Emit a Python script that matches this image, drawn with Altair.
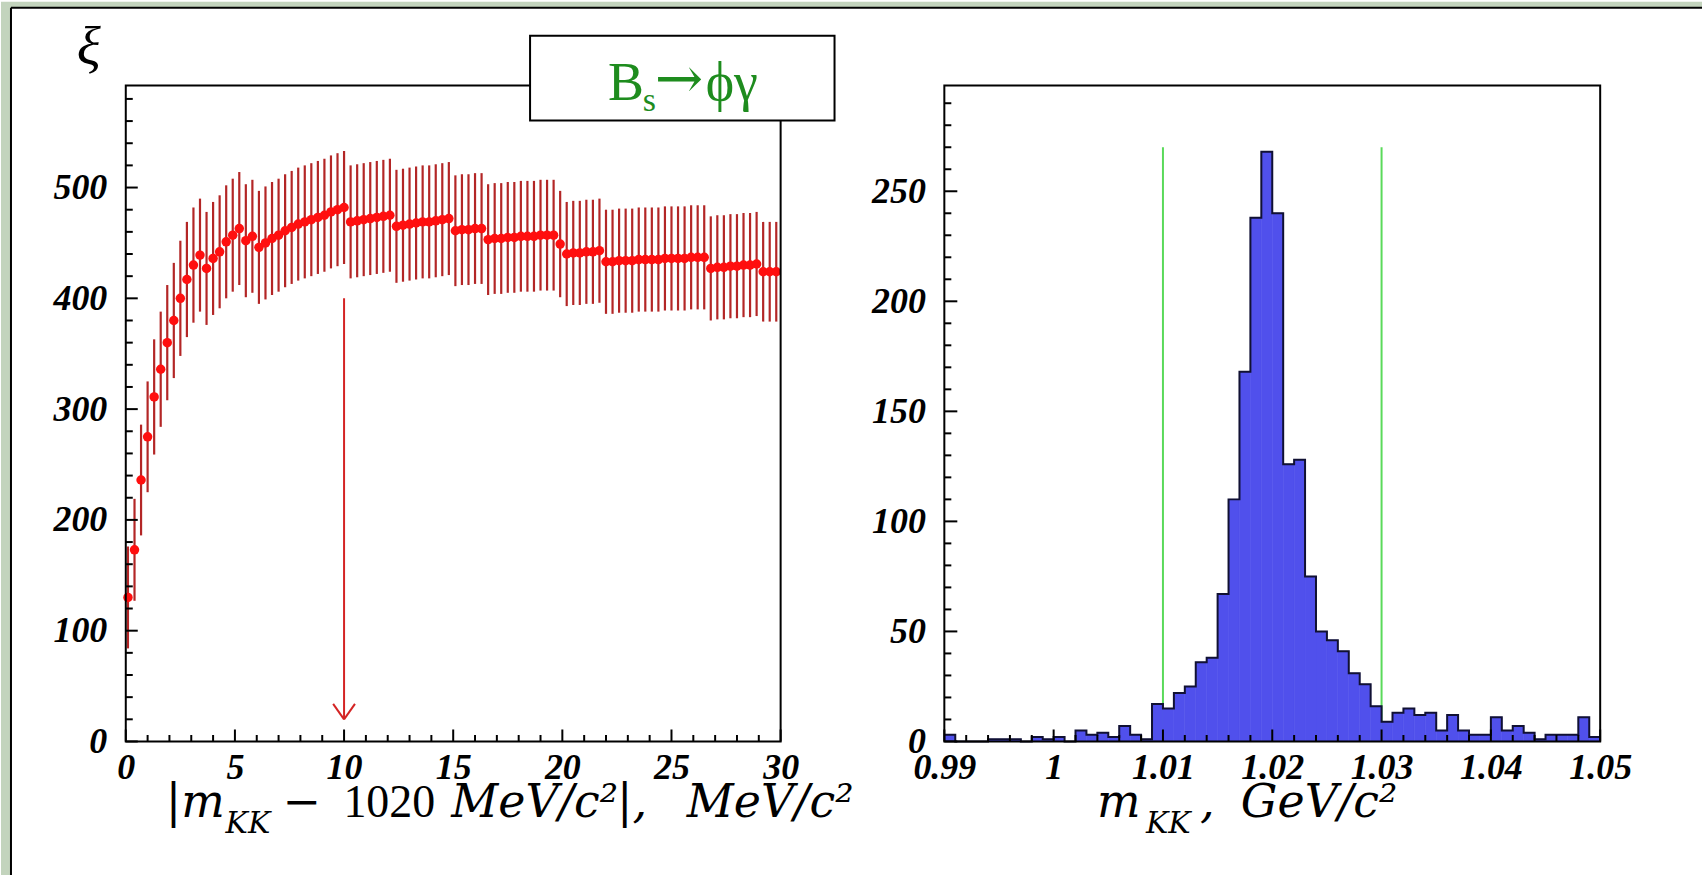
import altair as alt
import pandas as pd

# ---------------- left panel: figure of merit xi vs |m_KK - 1020| cut ----------------
cut_mev = [0.1, 0.4, 0.7, 1.0, 1.3, 1.6, 1.9, 2.2, 2.5, 2.8,
           3.1, 3.4, 3.7, 4.0, 4.3, 4.6, 4.9, 5.2, 5.5, 5.8,
           6.1, 6.4, 6.7, 7.0, 7.3, 7.6, 7.9, 8.2, 8.5, 8.8,
           9.1, 9.4, 9.7, 10.0, 10.3, 10.6, 10.9, 11.2, 11.5, 11.8,
           12.1, 12.4, 12.7, 13.0, 13.3, 13.6, 13.9, 14.2, 14.5, 14.8,
           15.1, 15.4, 15.7, 16.0, 16.3, 16.6, 16.9, 17.2, 17.5, 17.8,
           18.1, 18.4, 18.7, 19.0, 19.3, 19.6, 19.9, 20.2, 20.5, 20.8,
           21.1, 21.4, 21.7, 22.0, 22.3, 22.6, 22.9, 23.2, 23.5, 23.8,
           24.1, 24.4, 24.7, 25.0, 25.3, 25.6, 25.9, 26.2, 26.5, 26.8,
           27.1, 27.4, 27.7, 28.0, 28.3, 28.6, 28.9, 29.2, 29.5, 29.8]
xi_val = [130, 173, 236, 275, 311, 336, 360, 380, 400, 417,
          430, 439, 427, 436, 442, 451, 457, 463, 452, 456,
          446, 450, 454, 457, 461, 464, 467, 469, 471, 473,
          475, 478, 480, 482, 469, 470, 471, 472, 473, 474,
          475, 465, 466, 467, 468, 469, 469, 470, 471, 472,
          461, 462, 462, 463, 463, 453, 454, 454, 455, 455,
          456, 456, 456, 457, 457, 457, 449, 440, 441, 441,
          442, 442, 443, 433, 433, 434, 434, 434, 435, 435,
          435, 435, 436, 436, 436, 436, 437, 437, 437, 427,
          428, 428, 429, 429, 430, 430, 431, 424, 424, 424]
xi_err = [46, 46, 50, 50, 52, 52, 52, 52, 52, 52,
          52, 51, 51, 51, 51, 51, 51, 51, 51, 51,
          51, 51, 51, 51, 51, 51, 51, 51, 51, 51,
          51, 51, 51, 51, 51, 51, 51, 51, 51, 51,
          51, 51, 51, 51, 51, 51, 51, 51, 51, 51,
          50, 50, 50, 50, 50, 50, 50, 50, 50, 50,
          50, 50, 50, 50, 50, 50, 48, 47, 47, 47,
          47, 47, 47, 47, 47, 47, 47, 47, 47, 47,
          47, 47, 47, 47, 47, 47, 47, 47, 47, 47,
          47, 47, 47, 47, 47, 47, 47, 45, 45, 45]
arrow_cut = [10]
arrow_from = [400]
arrow_to = [20]

# ---------------- right panel: m_KK histogram ----------------
bin_lo = [0.990, 0.991, 0.992, 0.993, 0.994, 0.995, 0.996, 0.997, 0.998, 0.999,
          1.000, 1.001, 1.002, 1.003, 1.004, 1.005, 1.006, 1.007, 1.008, 1.009,
          1.010, 1.011, 1.012, 1.013, 1.014, 1.015, 1.016, 1.017, 1.018, 1.019,
          1.020, 1.021, 1.022, 1.023, 1.024, 1.025, 1.026, 1.027, 1.028, 1.029,
          1.030, 1.031, 1.032, 1.033, 1.034, 1.035, 1.036, 1.037, 1.038, 1.039,
          1.040, 1.041, 1.042, 1.043, 1.044, 1.045, 1.046, 1.047, 1.048, 1.049]
hist_end = 1.050
counts = [3, 0, 0, 0, 1, 1, 1, 0, 2, 1,
          2, 0, 5, 3, 4, 2, 7, 3, 1, 17,
          15, 22, 25, 36, 38, 67, 110, 168, 238, 268,
          240, 126, 128, 75, 50, 46, 41, 31, 26, 16,
          9, 13, 15, 12, 13, 5, 12, 5, 3, 3,
          11, 5, 7, 4, 1, 3, 3, 3, 11, 2]
cut_window = [1.01, 1.03]
cut_line_top = 270

# ---------------- ticks ----------------
l_x_major = [0, 5, 10, 15, 20, 25, 30]
l_x_minor = [1, 2, 3, 4, 6, 7, 8, 9, 11, 12, 13, 14, 16, 17, 18, 19, 21, 22, 23, 24, 26, 27, 28, 29]
l_y_major = [0, 100, 200, 300, 400, 500]
l_y_minor = [20, 40, 60, 80, 120, 140, 160, 180, 220, 240, 260, 280, 320, 340, 360, 380,
             420, 440, 460, 480, 520, 540, 560, 580]
r_x_major = [0.99, 1.0, 1.01, 1.02, 1.03, 1.04, 1.05]
r_x_minor = [0.992, 0.994, 0.996, 0.998, 1.002, 1.004, 1.006, 1.008, 1.012, 1.014, 1.016, 1.018,
             1.022, 1.024, 1.026, 1.028, 1.032, 1.034, 1.036, 1.038, 1.042, 1.044, 1.046, 1.048]
r_y_major = [0, 50, 100, 150, 200, 250]
r_y_minor = [10, 20, 30, 40, 60, 70, 80, 90, 110, 120, 130, 140, 160, 170, 180, 190,
             210, 220, 230, 240, 260, 270, 280, 290]

# ---------------- layout / style ----------------
W_L, W_R, H = 656, 657, 657
OX_L, OY = 125, 84
OX_R = 945
FULL_W, FULL_H = 1704, 875
TIMES = "Liberation Serif"
MATH = "DejaVu Serif"
BG_GREEN = "#c3d4bd"
GREEN_TXT = "#1e8c1e"
BAR_BLUE = "#5050ec"

one = pd.DataFrame({"a": [0]})

lab = dict(grid=False, domain=False, ticks=False, tickSize=0, labelFont=TIMES, labelFontSize=36,
           labelFontWeight="bold", labelFontStyle="italic", labelColor="black",
           labelOverlap=False, labelFlush=False, title=None, zindex=2)

xs_l = alt.Scale(domain=[0, 30], nice=False, zero=False)
ys_l = alt.Scale(domain=[0, 592], nice=False, zero=False)
xa_l = alt.Axis(values=l_x_major, labelPadding=9, **lab)
ya_l = alt.Axis(values=l_y_major, labelPadding=19, **lab)

xs_r = alt.Scale(domain=[0.99, 1.05], nice=False, zero=False)
ys_r = alt.Scale(domain=[0, 298], nice=False, zero=False)
xa_r = alt.Axis(values=r_x_major, labelPadding=9, labelExpr="format(datum.value, '.2~f')", **lab)
ya_r = alt.Axis(values=r_y_major, labelPadding=19, **lab)


def XL(f):
    return alt.X(f"{f}:Q", scale=xs_l, axis=xa_l)


def YL(f):
    return alt.Y(f"{f}:Q", scale=ys_l, axis=ya_l)


def XR(f):
    return alt.X(f"{f}:Q", scale=xs_r, axis=xa_r)


def YR(f):
    return alt.Y(f"{f}:Q", scale=ys_r, axis=ya_r)


def text(t, x, y, size, font=TIMES, style="normal", color="black", weight="normal"):
    return alt.Chart(one).mark_text(text=t, font=font, fontSize=size, fontStyle=style, fontWeight=weight,
                                    color=color, align="left", baseline="alphabetic").encode(
        x=alt.value(x), y=alt.value(y))


def ticks(vals, axis_x, fx, fy, length, w, h):
    d = pd.DataFrame({"t": vals})
    c = alt.Chart(d).mark_rule(color="black", strokeWidth=2)
    if axis_x:
        return c.encode(x=fx("t"), y=alt.value(h), y2=alt.value(h - length))
    return c.encode(y=fy("t"), x=alt.value(0), x2=alt.value(length))


def frame(w, h):
    return alt.Chart(one).mark_rect(fill="transparent", stroke="black", strokeWidth=2).encode(
        x=alt.value(0), x2=alt.value(w), y=alt.value(0), y2=alt.value(h))


# ---- slide background (anchors the page at 0,0) ----
bg = alt.Chart(one).mark_rect(color=BG_GREEN).encode(
    x=alt.value(-OX_L), x2=alt.value(FULL_W - OX_L), y=alt.value(-OY), y2=alt.value(FULL_H - OY))
white = alt.Chart(one).mark_rect(color="white").encode(
    x=alt.value(10 - OX_L), x2=alt.value(FULL_W - OX_L), y=alt.value(6 - OY), y2=alt.value(FULL_H - OY))
border_h = alt.Chart(one).mark_rule(color="black", strokeWidth=2).encode(
    x=alt.value(10 - OX_L), x2=alt.value(FULL_W - OX_L), y=alt.value(6 - OY))
border_v = alt.Chart(one).mark_rule(color="black", strokeWidth=2).encode(
    x=alt.value(10 - OX_L), y=alt.value(6 - OY), y2=alt.value(FULL_H - OY))

# ---- left panel ----
xi = pd.DataFrame({"x": cut_mev, "v": xi_val, "e": xi_err})
xi["lo"] = xi["v"] - xi["e"]
xi["hi"] = xi["v"] + xi["e"]

errbars = alt.Chart(xi).mark_rule(color="#b32626", strokeWidth=2.2).encode(x=XL("x"), y=YL("lo"), y2="hi")
points = alt.Chart(xi).mark_circle(size=90, color="#ff0f0f", opacity=1).encode(x=XL("x"), y=YL("v"))

a_x, a_top, a_tip = arrow_cut[0], arrow_from[0], arrow_to[0]
shaft = alt.Chart(pd.DataFrame({"x": [a_x], "y": [a_top], "y2": [a_tip]})).mark_rule(
    color="#d42424", strokeWidth=2).encode(x=XL("x"), y=YL("y"), y2="y2")
arms = alt.Chart(pd.DataFrame({"x": [a_x - 0.5, a_x + 0.5], "x2": [a_x, a_x],
                               "y": [a_tip + 14, a_tip + 14], "y2": [a_tip, a_tip]})).mark_rule(
    color="#d42424", strokeWidth=2).encode(x=XL("x"), x2="x2", y=YL("y"), y2="y2")

box = alt.Chart(one).mark_rect(fill="white", stroke="black", strokeWidth=2).encode(
    x=alt.value(405), x2=alt.value(710), y=alt.value(-50), y2=alt.value(35))

left = alt.layer(
    bg, white, border_h, border_v,
    errbars, points, shaft, arms,
    ticks(l_x_major, True, XL, YL, 12, W_L, H),
    ticks(l_x_minor, True, XL, YL, 6.5, W_L, H),
    ticks(l_y_major, False, XL, YL, 12, W_L, H),
    ticks(l_y_minor, False, XL, YL, 7, W_L, H),
    frame(W_L, H),
    box,
    text("B", 483, 14, 54, color=GREEN_TXT),
    text("s", 518, 25, 34, color=GREEN_TXT),
    text("\u2192", 530, 12, 58, font=MATH, color=GREEN_TXT),
    text("\u03d5\u03b3", 581, 14, 54, color=GREEN_TXT),
    text("\u03be", -49, -21, 56, style="italic"),
    text("|m", 40, 733, 46, font=MATH, style="italic"),
    text("KK", 100, 749, 30, font=MATH, style="italic"),
    text("\u2212", 157, 733, 46, font=MATH),
    text("1020", 218, 733, 46),
    text("MeV/c\u00b2", 326, 733, 46, font=MATH, style="italic"),
    text("|,", 492, 733, 46, font=MATH, style="italic"),
    text("MeV/c\u00b2", 562, 733, 46, font=MATH, style="italic"),
).properties(width=W_L, height=H)

# ---- right panel ----
hist = pd.DataFrame({"lo": bin_lo, "hi": bin_lo[1:] + [hist_end], "n": counts, "base": [0] * len(counts)})
outline = pd.DataFrame({"x": bin_lo + [hist_end], "n": counts + [counts[-1]]})
cuts = pd.DataFrame({"c": cut_window, "y0": [0, 0], "y1": [cut_line_top, cut_line_top]})

cut_lines = alt.Chart(cuts).mark_rule(color="#5ada5a", strokeWidth=2).encode(x=XR("c"), y=YR("y0"), y2="y1")
bars = alt.Chart(hist).mark_rect(color=BAR_BLUE, stroke=BAR_BLUE, strokeWidth=0.6).encode(
    x=XR("lo"), x2="hi", y=YR("n"), y2="base")
steps = alt.Chart(outline).mark_line(interpolate="step-after", color="#111133", strokeWidth=2).encode(
    x=XR("x"), y=YR("n"))

right = alt.layer(
    cut_lines, bars, steps,
    ticks(r_x_major, True, XR, YR, 12, W_R, H),
    ticks(r_x_minor, True, XR, YR, 6.5, W_R, H),
    ticks(r_y_major, False, XR, YR, 13, W_R, H),
    ticks(r_y_minor, False, XR, YR, 7, W_R, H),
    frame(W_R, H),
    text("m", 153, 733, 46, font=MATH, style="italic"),
    text("KK", 202, 749, 30, font=MATH, style="italic"),
    text(",", 256, 733, 46, font=MATH, style="italic"),
    text("GeV/c\u00b2", 297, 733, 46, font=MATH, style="italic"),
).properties(width=W_R, height=H)

chart = alt.hconcat(left, right, spacing=OX_R - OX_L - W_L, bounds="flush").properties(
    padding=0, background="white").configure_view(stroke="transparent")

chart.save("out.html", embed_options={"renderer": "svg", "actions": False})
